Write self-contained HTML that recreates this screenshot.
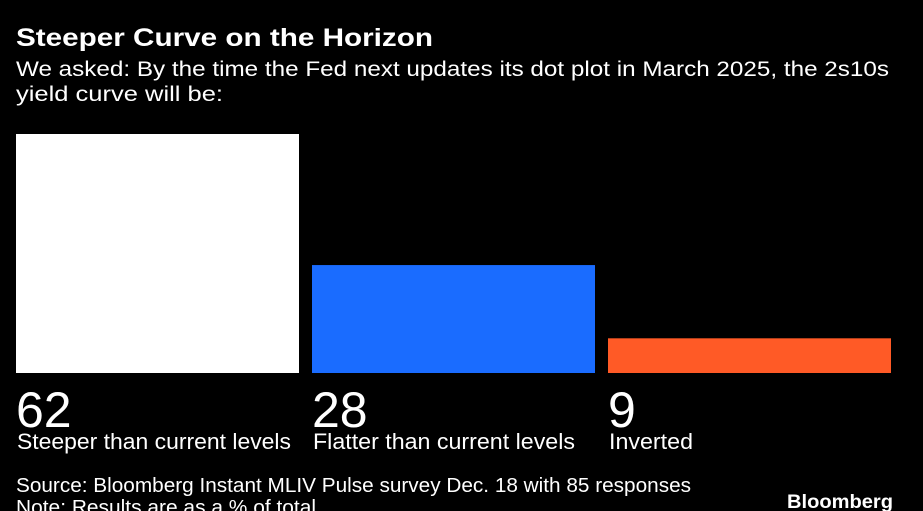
<!DOCTYPE html>
<html><head><meta charset="utf-8"><style>
html,body{margin:0;padding:0;background:#000;width:923px;height:511px;overflow:hidden}
svg{display:block}
text{font-family:"Liberation Sans Narrow","Liberation Sans",sans-serif;fill:#fff}
</style></head><body>
<svg id="chart" width="923" height="511">
<text x="16" y="46" font-size="25" font-weight="bold" font-family="Liberation Sans" textLength="417" lengthAdjust="spacingAndGlyphs">Steeper Curve on the Horizon</text>
<text x="16" y="76" font-size="21" textLength="873" lengthAdjust="spacingAndGlyphs">We asked: By the time the Fed next updates its dot plot in March 2025, the 2s10s</text>
<text x="16" y="101" font-size="21" textLength="207" lengthAdjust="spacingAndGlyphs">yield curve will be:</text>
<g id="bars"></g>
<text x="16" y="492" font-size="20" textLength="675" lengthAdjust="spacingAndGlyphs">Source: Bloomberg Instant MLIV Pulse survey Dec. 18 with 85 responses</text>
<text x="16" y="514" font-size="20" textLength="300" lengthAdjust="spacingAndGlyphs">Note: Results are as a % of total</text>
<text x="787" y="508" font-size="19" font-weight="bold" font-family="Liberation Sans" textLength="106" lengthAdjust="spacingAndGlyphs">Bloomberg</text>
</svg>
<script>
const categories=["Steeper than current levels","Flatter than current levels","Inverted"];
const values=[62,28,9];
const colors=["#ffffff","#1a6cff","#ff5a26"];
const labelWidths=[274,262,84];
const ns="http://www.w3.org/2000/svg";
const g=document.getElementById("bars");
const base=373, scale=239/62;
function y(v){return base-v*scale;}
function x(i){return 16+i*296;}
categories.forEach((c,i)=>{
  const r=document.createElementNS(ns,"rect");
  r.setAttribute("x",x(i));r.setAttribute("y",y(values[i]));
  r.setAttribute("width",283);r.setAttribute("height",base-y(values[i]));
  r.setAttribute("fill",colors[i]);
  
  
  g.appendChild(r);
  const v=document.createElementNS(ns,"text");
  v.setAttribute("x",x(i));v.setAttribute("y",427);v.setAttribute("font-size","50");
  v.textContent=values[i];
  
  
  g.appendChild(v);
  const t=document.createElementNS(ns,"text");
  t.setAttribute("x",x(i)+1);t.setAttribute("y",449);t.setAttribute("font-size","22");
  t.setAttribute("textLength",labelWidths[i]);t.setAttribute("lengthAdjust","spacingAndGlyphs");
  t.textContent=c;
  
  
  g.appendChild(t);
});
</script>
</body></html>
